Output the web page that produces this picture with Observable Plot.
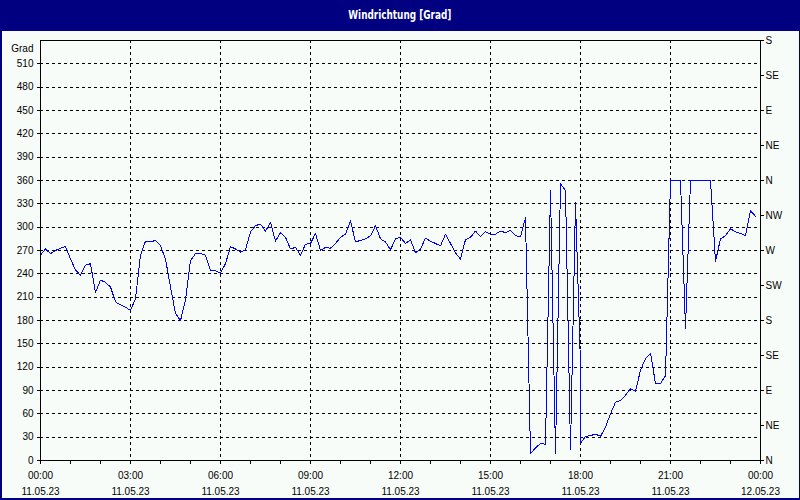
<!DOCTYPE html>
<html>
<head>
<meta charset="utf-8">
<script src="https://cdn.jsdelivr.net/npm/d3@7"></script>
<script src="https://cdn.jsdelivr.net/npm/@observablehq/plot@0.6"></script>
<style>
  html, body { margin: 0; padding: 0; background: #f8fcf8; }
  #title {
    width: 800px; height: 31px; background: #000080; color: #ffffff;
    text-align: center; line-height: 28px; box-sizing: border-box; overflow: hidden;
  }
  #title span {
    display: inline-block; transform: scaleX(0.76); transform-origin: center;
    font: bold 13px "DejaVu Sans Condensed", "Liberation Sans", sans-serif;
  }
  #chart {
    width: 797px; height: 467px; background: #f8fcf8;
    border-left: 2px solid #000080; border-right: 1px solid #000080; border-bottom: 2px solid #000080;
  }
  #chart svg { display: block; }
</style>
</head>
<body>
<div id="title"><span>Windrichtung [Grad]</span></div>
<div id="chart"></div>
<script>
// Time of each sample, minutes after 11.05.23 00:00
const minutes = [
  0,10,20,30,40,50,
  60,70,80,90,100,110,
  120,130,140,150,160,170,
  180,190,200,210,220,230,
  240,250,260,270,280,290,
  300,310,320,330,340,350,
  360,370,380,390,400,410,
  420,430,440,450,460,470,
  480,490,500,510,520,530,
  540,550,560,570,580,590,
  600,610,620,630,640,650,
  660,670,680,690,700,710,
  720,730,740,750,760,770,
  780,790,800,810,820,830,
  840,850,860,870,880,890,
  900,910,920,930,940,950,
  960,970,980,990,1000,1010,
  1020,1030,1040,1050,1060,1070,
  1080,1081,1090,1100,1110,1120,1130,
  1140,1150,1160,1170,1180,1190,
  1200,1210,1220,1230,1240,1250,
  1260,1270,1280,1290,1300,1310,
  1320,1330,1340,1350,1360,1370,
  1380,1390,1400,1410,1420,1430
];
// Wind direction [Grad]
const grad = [
  264,272,266,270,273,275,
  259,245,238,251,253,216,
  232,229,223,204,200,197,
  193,208,264,282,281,283,
  276,259,223,189,180,206,
  257,266,266,264,244,244,
  241,253,275,272,268,271,
  294,302,304,295,306,282,
  293,287,272,274,264,278,
  279,292,270,274,273,279,
  287,291,308,281,283,285,
  289,302,285,281,271,285,
  287,279,284,267,272,286,
  282,279,276,291,279,267,
  259,284,287,295,288,294,
  291,291,295,293,296,289,
  288,312,9,16,22,21,
  347,9,356,347,14,332,
  123,23,31,32,34,31,43,
  60,75,77,84,92,89,
  116,131,138,99,99,109,
  360,360,360,170,360,360,
  360,360,360,256,285,289,
  298,294,292,289,321,314
];

const xMajor = [0,180,360,540,720,900,1080,1260,1440];
const xMajorLabels = [
  "00:00\n11.05.23","03:00\n11.05.23","06:00\n11.05.23","09:00\n11.05.23",
  "12:00\n11.05.23","15:00\n11.05.23","18:00\n11.05.23","21:00\n11.05.23",
  "00:00\n12.05.23"
];
const xMinor = [60,120,240,300,420,480,600,660,780,840,960,1020,1140,1200,1320,1380];
const xGrid = [180,360,540,720,900,1080,1260];
const yTicks = [0,30,60,90,120,150,180,210,240,270,300,330,360,390,420,450,480,510];
const yGrid = [30,60,90,120,150,180,210,240,270,300,330,360,390,420,450,480,510];
const compassVals = [0,45,90,135,180,225,270,315,360,405,450,495,540];
const compassLabels = ["N","NE","E","SE","S","SW","W","NW","N","NE","E","SE","S"];

const data = minutes.map((m, i) => ({t: m, v: grad[i]}));

const chart = Plot.plot({
  width: 797,
  height: 467,
  marginLeft: 38,
  marginRight: 39,
  marginTop: 9,
  marginBottom: 38,
  style: {fontFamily: "'Liberation Sans', Arial, sans-serif", fontSize: "10px", background: "#f8fcf8", color: "#000"},
  x: {type: "linear", domain: [0, 1440]},
  y: {type: "linear", domain: [0, 540]},
  marks: [
    Plot.ruleY(yGrid, {y: d => d, stroke: "#000", strokeDasharray: "3,3", strokeWidth: 1, shapeRendering: "crispEdges"}),
    Plot.ruleX(xGrid, {x: d => d, stroke: "#000", strokeDasharray: "3,3", strokeWidth: 1, shapeRendering: "crispEdges"}),
    Plot.line(data, {x: "t", y: "v", stroke: "#0000ff", strokeWidth: 1, shapeRendering: "crispEdges"}),
    Plot.frame({stroke: "#000", strokeWidth: 1, shapeRendering: "crispEdges"}),
    Plot.axisY(yTicks, {anchor: "left", label: null, tickSize: 3, tickPadding: 4, tickFormat: d => String(d), shapeRendering: "crispEdges"}),
    Plot.text(["Grad"], {frameAnchor: "top-left", dx: -7, dy: 4, textAnchor: "end"}),
    Plot.axisY(compassVals, {anchor: "right", label: null, tickSize: 3, tickPadding: 2,
      tickFormat: d => compassLabels[compassVals.indexOf(d)], shapeRendering: "crispEdges"}),
    Plot.axisX(xMajor, {anchor: "bottom", label: null, tickSize: 4, tickPadding: 3, lineHeight: 1.6,
      tickFormat: d => xMajorLabels[xMajor.indexOf(d)], shapeRendering: "crispEdges"}),
    Plot.axisX(xMinor, {anchor: "bottom", label: null, tickSize: 4, tickFormat: () => "", shapeRendering: "crispEdges"})
  ]
});
document.getElementById("chart").appendChild(chart);
</script>
</body>
</html>
